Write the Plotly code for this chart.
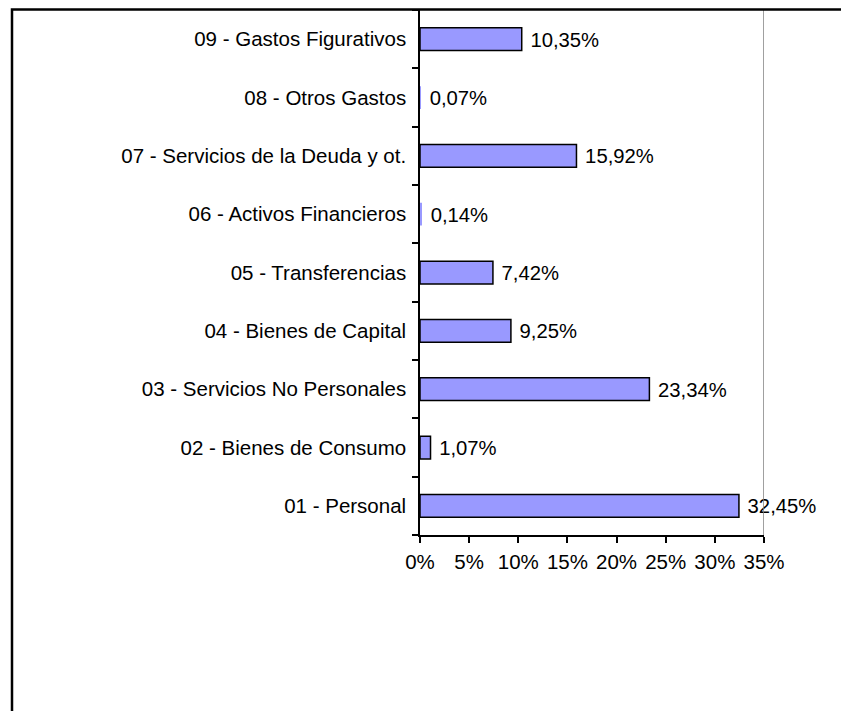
import plotly.graph_objects as go

categories = [
    "01 - Personal",
    "02 - Bienes de Consumo",
    "03 - Servicios No Personales",
    "04 - Bienes de Capital",
    "05 - Transferencias",
    "06 - Activos Financieros",
    "07 - Servicios de la Deuda y ot.",
    "08 - Otros Gastos",
    "09 - Gastos Figurativos",
]
values = [32.45, 1.07, 23.34, 9.25, 7.42, 0.14, 15.92, 0.07, 10.35]
x_ticks = [0, 5, 10, 15, 20, 25, 30, 35]

# page has an 8px body margin; figure sized to fit the window
W, H = 841, 703
L, R, T, B = 412, 756, 2, 527

outline = [1.5 if v >= 0.5 else 0 for v in values]

fig = go.Figure(
    go.Bar(
        x=values,
        y=categories,
        orientation="h",
        marker=dict(color="#9999FF", line=dict(color="#000000", width=outline)),
        width=0.39,
        texttemplate="\u00a0%{x:.2f}%",
        textposition="outside",
        textfont=dict(size=20.5, color="#000000"),
        cliponaxis=False,
        hoverinfo="skip",
    )
)

fig.update_layout(
    width=W,
    height=H,
    margin=dict(l=L, r=W - R, t=T, b=H - B, pad=0),
    paper_bgcolor="white",
    plot_bgcolor="white",
    separators=",.",
    showlegend=False,
    font=dict(family="Liberation Sans, Arial, sans-serif", size=20.5, color="#000000"),
    xaxis=dict(
        range=[0, 35],
        tickvals=x_ticks,
        ticktext=[f"{v}%" for v in x_ticks],
        ticks="outside",
        ticklen=6,
        tickwidth=1.5,
        tickcolor="#000000",
        showline=True,
        linecolor="#000000",
        linewidth=1.5,
        showgrid=False,
        zeroline=False,
        ticklabelstandoff=2,
    ),
    yaxis=dict(
        categoryorder="array",
        categoryarray=categories,
        tickson="boundaries",
        ticks="outside",
        ticklen=6,
        tickwidth=1.5,
        tickcolor="#000000",
        showline=True,
        linecolor="#000000",
        linewidth=1.5,
        showgrid=False,
        zeroline=False,
        ticklabelstandoff=8,
    ),
    shapes=[
        dict(type="line", xref="x", yref="paper", x0=35, x1=35, y0=0, y1=1,
             line=dict(color="#808080", width=1.5)),
        dict(type="rect", xref="paper", yref="paper",
             x0=(4 - L) / (R - L), x1=(900 - L) / (R - L),
             y0=(B - 760) / (B - T), y1=(B - 1.5) / (B - T),
             line=dict(color="#000000", width=2.5), fillcolor="rgba(0,0,0,0)"),
    ],
)

fig.write_html("out.html")
